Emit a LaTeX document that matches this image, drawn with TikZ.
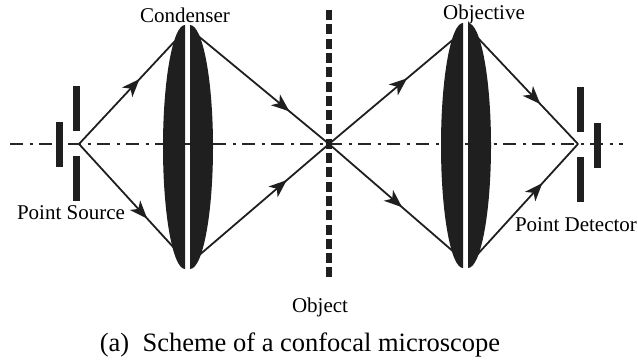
\documentclass[tikz,border=0pt]{standalone}
\usepackage{fontspec}
\setmainfont{Liberation Serif}
\usetikzlibrary{arrows.meta, decorations.markings}

\begin{document}
\begin{tikzpicture}[
  x=1bp, y=-1bp,
  font=\fontsize{21bp}{24bp}\selectfont,
  >={Stealth[length=18bp, width=14bp, inset=5bp]},
  bar/.style={fill=black!88, inner sep=0pt, minimum width=7bp, minimum height=45bp},
  slot/.style={fill=black!88, line width=0pt},
  axisline/.style={line width=1.6bp, black!85, dash pattern=on 12.5bp off 7bp on 3bp off 6.5bp},
  objectline/.style={line width=5.5bp, black!88, dash pattern=on 10bp off 4.3bp},
  ray/.style={line width=1.8bp, black!88, postaction={decorate}, decoration={markings, mark=at position #1 with {\arrow{>}}}},
  ray/.default=0.6
]
\useasboundingbox (0,0) rectangle (638,361);

\coordinate (axisL) at (10,144);
\coordinate (axisR) at (623,144);
\coordinate (source) at (79,144);
\coordinate (focus) at (329,144);
\coordinate (detector) at (578,144);
\coordinate (objTop) at (329,10);
\coordinate (objBot) at (329,280);

\draw[axisline] (axisL) -- (axisR);
\draw[objectline] (objTop) -- (objBot);

% pinholes
\node[bar] (srcBack) at (59.5,144) {};
\node[bar] (srcUp) at (76.5,108.5) {};
\node[bar] (srcDown) at (76.5,178) {};
\node[bar] (detUp) at (580.5,109.5) {};
\node[bar] (detDown) at (580.5,179) {};
\node[bar] (detBack) at (597.5,145) {};

% lens edges
\coordinate (condUL) at (175,41);
\coordinate (condLL) at (175,249);
\coordinate (condUR) at (197,35);
\coordinate (condLR) at (197,257);
\coordinate (objvUL) at (455,38);
\coordinate (objvLL) at (455,253);
\coordinate (objvUR) at (476,36);
\coordinate (objvLR) at (476,256);

\draw[ray=0.63] (source) -- (condUL);
\draw[ray=0.71] (source) -- (condLL);
\draw[ray=0.70] (condUR) -- (focus);
\draw[ray=0.68] (condLR) -- (focus);
\draw[ray=0.62] (focus) -- (objvUL);
\draw[ray=0.58] (focus) -- (objvLL);
\draw[ray=0.63] (objvUR) -- (detector);
\draw[ray=0.65] (objvLR) -- (detector);

% condenser
\fill[slot] (185,25) arc[start angle=90, end angle=270, x radius=22bp, y radius=122bp] -- cycle;
\fill[slot] (190,25) arc[start angle=90, end angle=-90, x radius=23bp, y radius=122bp] -- cycle;
% objective
\fill[slot] (463,23) arc[start angle=90, end angle=270, x radius=22bp, y radius=122.5bp] -- cycle;
\fill[slot] (468,23) arc[start angle=90, end angle=-90, x radius=23bp, y radius=122.5bp] -- cycle;

\node (condenser) at (185,15) {Condenser};
\node (objective) at (484,14) {Objective};
\node (pointSource) at (71,213) {Point Source};
\node (pointDetector) at (576,225) {Point Detector};
\node (objectLabel) at (320,307) {Object};
\node[font=\fontsize{26.5bp}{30bp}\selectfont] (caption) at (300,345) {(a)\ \ Scheme of a confocal microscope};
\end{tikzpicture}
\end{document}
